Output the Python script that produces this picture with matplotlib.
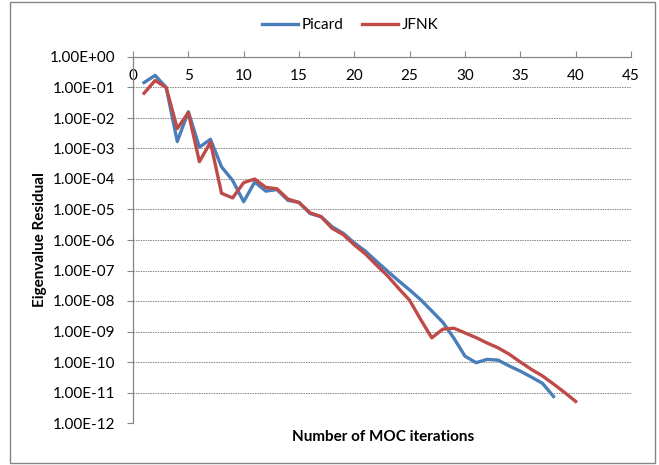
import numpy as np
import matplotlib
matplotlib.use("Agg")
import matplotlib.pyplot as plt
from matplotlib.patches import Rectangle
from matplotlib.ticker import FixedLocator, FuncFormatter, NullLocator

# residual per MOC iteration
picard = [1.45e-1, 2.5e-1, 1.0e-1, 1.7e-3, 1.6e-2, 1.1e-3, 2.0e-3, 2.5e-4, 9e-5, 1.8e-5,
          8e-5, 4e-5, 4.5e-5, 2e-5, 1.7e-5, 7.4e-6, 5.8e-6, 2.7e-6, 1.65e-6, 8e-7,
          4.3e-7, 2.0e-7, 9.5e-8, 4.6e-8, 2.3e-8, 1.1e-8, 4.7e-9, 2.0e-9, 6e-10, 1.55e-10,
          9.5e-11, 1.22e-10, 1.15e-10, 7.4e-11, 5e-11, 3.2e-11, 2e-11, 7.4e-12]
jfnk = [6.5e-2, 0.17, 0.1, 4.5e-3, 1.5e-2, 3.7e-4, 1.6e-3, 3.4e-5, 2.4e-5, 7.6e-5,
        1e-4, 5.3e-5, 4.8e-5, 2.2e-5, 1.7e-5, 7.8e-6, 5.8e-6, 2.4e-6, 1.5e-6, 6.9e-7,
        3.5e-7, 1.5e-7, 6.7e-8, 2.6e-8, 1.05e-8, 2.45e-9, 6.2e-10, 1.2e-9, 1.28e-9, 9e-10,
        6.3e-10, 4.2e-10, 2.9e-10, 1.8e-10, 1e-10, 5.7e-11, 3.5e-11, 1.9e-11, 1e-11, 5.1e-12]
iter_picard = list(range(1, len(picard) + 1))
iter_jfnk = list(range(1, len(jfnk) + 1))

x_ticks = [0, 5, 10, 15, 20, 25, 30, 35, 40, 45]
y_ticks = [10.0 ** k for k in range(-12, 1)]

plt.rcParams['font.family'] = ['Lato', 'DejaVu Sans']
grey = '#868686'

fig = plt.figure(figsize=(6.59, 4.65), dpi=100)
fig.patches.append(Rectangle((10 / 659, 2 / 465), 645 / 659, 461 / 465, transform=fig.transFigure,
                             fill=False, edgecolor=grey, linewidth=1.0))

ax = fig.add_axes([133 / 659, 1 - 423 / 465, 498 / 659, 366 / 465])
ax.plot(iter_picard, picard, color='#4A7EBB', lw=2.4, label='Picard', solid_joinstyle='round')
ax.plot(iter_jfnk, jfnk, color='#BE4B48', lw=2.4, label='JFNK', solid_joinstyle='round')

ax.set_yscale('log')
ax.set_xlim(0, 45)
ax.set_ylim(1e-12, 1)
ax.yaxis.set_major_locator(FixedLocator(y_ticks))
ax.yaxis.set_minor_locator(NullLocator())
ax.yaxis.set_major_formatter(FuncFormatter(lambda v, p: '%.2E' % v))
ax.xaxis.set_major_locator(FixedLocator(x_ticks))

# x axis sits on top, labels drawn just under the axis line
ax.xaxis.tick_top()
ax.tick_params(axis='x', direction='out', length=4, width=0.8, color=grey,
               labelsize=11, pad=-23, labelcolor='black')
ax.tick_params(axis='y', direction='out', length=4, width=0.8, color=grey,
               labelsize=11, pad=9, labelcolor='black')

for s in ['right', 'bottom']:
    ax.spines[s].set_visible(False)
for s in ['left', 'top']:
    ax.spines[s].set_color(grey)
    ax.spines[s].set_linewidth(0.9)

ax.grid(axis='y', color=grey, linestyle=(0, (1.5, 1)), linewidth=0.7)
ax.set_axisbelow(True)

ax.set_ylabel('Eigenvalue Residual', fontsize=11, fontweight='bold', labelpad=2)
fig.text(383 / 659, 1 - 437 / 465, 'Number of MOC iterations', fontsize=11,
         fontweight='bold', ha='center', va='center')

fig.legend(loc='center', bbox_to_anchor=(350 / 659, 1 - 25 / 465), ncol=2, frameon=False,
           fontsize=11, handlelength=2.4, handletextpad=0.2, columnspacing=1.2)

fig.savefig('out.png', dpi=100)
